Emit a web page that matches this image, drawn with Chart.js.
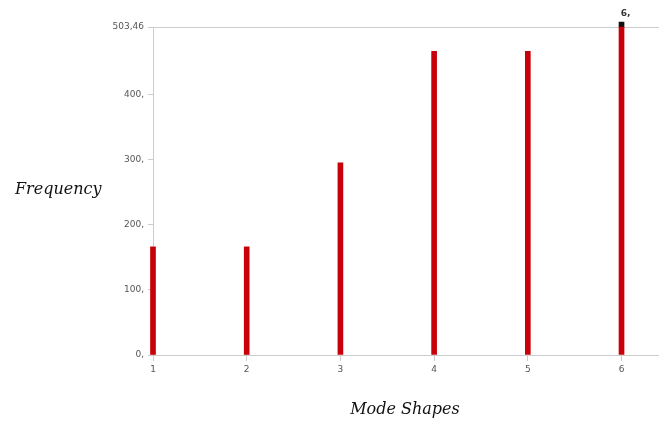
<!DOCTYPE html>
<html>
<head>
<meta charset="utf-8">
<script src="https://cdn.jsdelivr.net/npm/chart.js@4/dist/chart.umd.min.js"></script>
<style>
  html, body { margin: 0; padding: 0; background: #fff; }
  #wrap { width: 659px; height: 423px; }
</style>
</head>
<body>
<div id="wrap"><canvas id="chart"></canvas></div>
<script>
// data
var modes = [1, 2, 3, 4, 5, 6];
var freqs = [166, 166, 295, 466, 466, 503.46];
var yTicks = [0, 100, 200, 300, 400, 503.46];
var yLabels = ["0,", "100,", "200,", "300,", "400,", "503,46"];
var tipFrom = 503.46, tipTo = 511; // dark cap on the last bar
var yMax = 503.46;

var barPoints = [];
for (var i = 0; i < modes.length; i++) {
    barPoints.push({ x: modes[i], y: freqs[i] });
}

// horizontal axis titles drawn by hand
var titles = {
    id: "titles",
    afterDraw: function (chart) {
        var ctx = chart.ctx;
        ctx.save();
        ctx.fillStyle = "#111";
        ctx.font = "italic 16px 'DejaVu Serif'";
        ctx.textBaseline = "middle";
        ctx.textAlign = "left";
        ctx.fillText("Frequency", 15, 190);
        ctx.textAlign = "center";
        ctx.font = "italic 16px 'DejaVu Serif'";
        ctx.fillText("Mode Shapes", 405, 410);
        // label above last bar
        var xs = chart.scales.x, ys = chart.scales.y;
        ctx.font = "bold 9px 'DejaVu Sans'";
        ctx.fillStyle = "#333";
        ctx.fillText("6,", xs.getPixelForValue(modes[5]) + 4, ys.getPixelForValue(tipTo) - 8);
        ctx.restore();
    }
};

new Chart("chart", {
    type: "bar",
    data: {
        datasets: [{
            data: barPoints,
            backgroundColor: "#c8000a",
            barThickness: 5,
            clip: false
        }, {
            data: [{ x: modes[5], y: [tipFrom, tipTo] }],
            backgroundColor: "#111",
            barThickness: 5,
            clip: false
        }]
    },
    options: {
        responsive: true,
        maintainAspectRatio: false,
        animation: false,
        grouped: false,
        layout: { padding: { top: 27, right: 0, left: 0, bottom: 0 } },
        plugins: { legend: { display: false }, tooltip: { enabled: false } },
        scales: {
            x: {
                type: "linear",
                offset: false,
                min: 1,
                max: 6.4,
                afterBuildTicks: function (axis) {
                    axis.ticks = modes.map(function (v) { return { value: v }; });
                },
                afterFit: function (axis) { axis.height = 68; },
                grid: { drawOnChartArea: false, offset: false, color: "#ccc", tickLength: 6 },
                border: { color: "#ccc" },
                ticks: {
                    color: "#555",
                    font: { family: "DejaVu Sans", size: 9 },
                    padding: 3,
                    maxRotation: 0
                }
            },
            y: {
                min: 0,
                max: yMax,
                afterBuildTicks: function (axis) {
                    axis.ticks = yTicks.map(function (v) { return { value: v }; });
                },
                afterFit: function (axis) { axis.width = 153; },
                grid: {
                    color: function (c) { return c.tick && c.tick.value === yMax ? "#ccc" : "transparent"; },
                    tickColor: "#ccc",
                    tickLength: 5
                },
                border: { color: "#ccc" },
                ticks: {
                    color: "#555",
                    font: { family: "DejaVu Sans", size: 9 },
                    padding: 4,
                    callback: function (v, idx) { return yLabels[idx]; }
                }
            }
        }
    },
    plugins: [titles]
});
</script>
</body>
</html>
